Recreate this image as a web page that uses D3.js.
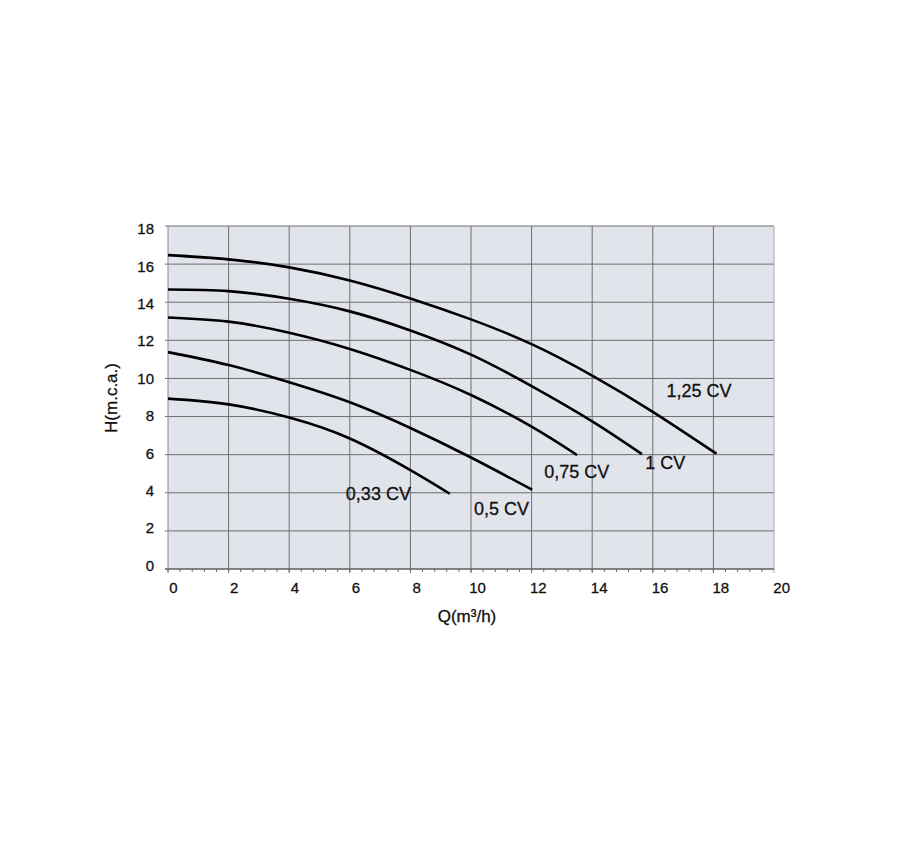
<!DOCTYPE html>
<html>
<head>
<meta charset="utf-8">
<script src="https://cdn.jsdelivr.net/npm/d3@7"></script>
<style>
  body { margin: 0; background: #fff; }
  svg text { font-family: "Liberation Sans", Arial, sans-serif; fill: #111; stroke: #111; stroke-width: 0.3px; }
</style>
</head>
<body>
<div id="chart"></div>
<script>
// pump curves: [Q (m3/h), H (m.c.a.)]
var cv125 = [[0,16.47],[2,16.25],[4,15.83],[6,15.14],[8,14.2],[10,13.1],[12,11.8],[14,10.15],[16,8.25],[18.1,6.05]];
var cv1   = [[0,14.67],[2,14.58],[4,14.18],[6,13.52],[8,12.52],[10,11.25],[12,9.6],[14,7.75],[15.64,6.03]];
var cv075 = [[0,13.2],[2,12.98],[4,12.4],[6,11.55],[8,10.45],[10,9.13],[12,7.47],[13.5,5.98]];
var cv05  = [[0,11.38],[2,10.7],[4,9.8],[6,8.75],[8,7.4],[10,5.85],[12.02,4.16]];
var cv033 = [[0,8.94],[2,8.64],[4,7.95],[6,6.85],[8,5.19],[9.3,3.95]];

var curveNames = ["1,25 CV", "1 CV", "0,75 CV", "0,5 CV", "0,33 CV"];
// where each curve name sits, in data units
var labelAt = [[16.45,9.02],[15.75,5.25],[12.42,4.77],[10.1,2.83],[5.87,3.62]];

var xTicks = [0,2,4,6,8,10,12,14,16,18,20];
var yTicks = [0,2,4,6,8,10,12,14,16,18];

var margin = {top: 226, left: 168},
    width = 606,
    height = 343;

var x = d3.scaleLinear().domain([0,20]).range([0,width]),
    y = d3.scaleLinear().domain([0,18]).range([height,0]);

// tick labels in the original sit a bit off their grid lines
var xLab = d3.scaleLinear().domain([0,20]).range([5.3,613.7]),
    yLab = d3.scaleLinear().domain([0,18]).range([339.3,2.7]);

var svg = d3.select("#chart").append("svg")
    .attr("width", 900)
    .attr("height", 850);

var g = svg.append("g")
    .attr("transform", "translate(" + margin.left + "," + margin.top + ")");

g.append("rect")
    .attr("width", width)
    .attr("height", height)
    .attr("fill", "#e2e4ec");

// grid
g.selectAll(".vgrid")
    .data(xTicks.slice(1, -1))
    .enter().append("line")
    .attr("x1", function(d) { return x(d); })
    .attr("x2", function(d) { return x(d); })
    .attr("y1", 0)
    .attr("y2", height + 4)
    .attr("stroke", "#6e6e72")
    .attr("stroke-width", 1);

g.selectAll(".hgrid")
    .data(yTicks)
    .enter().append("line")
    .attr("x1", -3)
    .attr("x2", width)
    .attr("y1", function(d) { return y(d); })
    .attr("y2", function(d) { return y(d); })
    .attr("stroke", "#6e6e72")
    .attr("stroke-width", 1);

// left and right edges
g.append("line")
    .attr("x1", 0).attr("x2", 0)
    .attr("y1", 0).attr("y2", height + 4)
    .attr("stroke", "#8a8a90");
g.append("line")
    .attr("x1", width).attr("x2", width)
    .attr("y1", 0).attr("y2", height + 4)
    .attr("stroke", "#a9a9ae");

// minor ticks under the x axis
g.selectAll(".minor")
    .data(d3.range(0, 50).map(function(i) { return i * 0.4; }))
    .enter().append("line")
    .attr("x1", function(d) { return x(d); })
    .attr("x2", function(d) { return x(d); })
    .attr("y1", height)
    .attr("y2", height + 3)
    .attr("stroke", "#6e6e72");

g.append("line")
    .attr("x1", -3).attr("x2", width)
    .attr("y1", height).attr("y2", height)
    .attr("stroke", "#55555a")
    .attr("stroke-width", 1.2);

// tick labels
g.selectAll(".xlab")
    .data(xTicks)
    .enter().append("text")
    .attr("x", function(d) { return xLab(d); })
    .attr("y", height + 24)
    .attr("text-anchor", "middle")
    .style("font-size", "15px")
    .text(function(d) { return d; });

g.selectAll(".ylab")
    .data(yTicks)
    .enter().append("text")
    .attr("x", -14)
    .attr("y", function(d) { return yLab(d); })
    .attr("dy", "0.36em")
    .attr("text-anchor", "end")
    .style("font-size", "15px")
    .text(function(d) { return d; });

// curves
var line = d3.line()
    .curve(d3.curveNatural)
    .x(function(d) { return x(d[0]); })
    .y(function(d) { return y(d[1]); });

g.selectAll(".pump")
    .data([cv125, cv1, cv075, cv05, cv033])
    .enter().append("path")
    .attr("d", line)
    .attr("fill", "none")
    .attr("stroke", "#000")
    .attr("stroke-width", 2.6);

g.selectAll(".pumpname")
    .data(curveNames)
    .enter().append("text")
    .attr("x", function(d, i) { return x(labelAt[i][0]); })
    .attr("y", function(d, i) { return y(labelAt[i][1]); })
    .style("font-size", "18px")
    .text(function(d) { return d; });

// axis titles
svg.append("text")
    .attr("transform", "translate(117,398) rotate(-90)")
    .attr("text-anchor", "middle")
    .style("font-size", "17px")
    .text("H(m.c.a.)");

svg.append("text")
    .attr("x", 467)
    .attr("y", 622)
    .attr("text-anchor", "middle")
    .style("font-size", "17px")
    .text("Q(m³/h)");
</script>
</body>
</html>
